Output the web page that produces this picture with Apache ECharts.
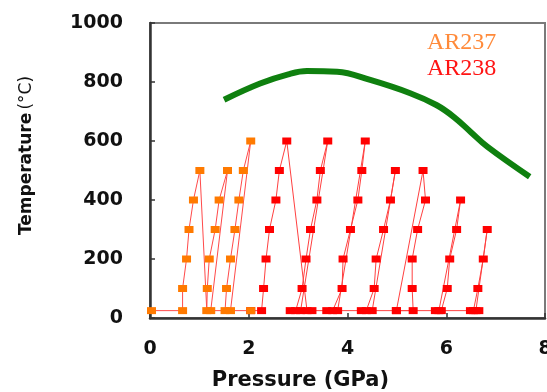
<!DOCTYPE html>
<html>
<head>
<meta charset="utf-8">
<script src="https://cdn.jsdelivr.net/npm/echarts@6/dist/echarts.min.js"></script>
<style>
html,body{margin:0;padding:0;background:#fff;}
#chart{width:547px;height:392px;}
</style>
</head>
<body>
<div id="chart"></div>
<script>
// Tick labels
const xTicks = [0, 2, 4, 6, 8];
const yTicks = [0, 200, 400, 600, 800, 1000];

// AR237 run path: [pressure GPa, temperature °C]
const ar237 = [
  [0.03,25],[0.66,25],[0.66,100],[0.74,200],[0.79,300],[0.88,400],[1.01,500],
  [1.15,25],[1.16,100],[1.20,200],[1.32,300],[1.40,400],[1.57,500],
  [1.23,25],[1.52,25],[1.55,100],[1.63,200],[1.72,300],[1.80,400],[1.89,500],[2.04,600],
  [1.63,25],[2.04,25]
];

// AR238 run path
const ar238 = [
  [2.04,25],[2.26,25],[2.30,100],[2.35,200],[2.42,300],[2.55,400],[2.62,500],[2.77,600],
  [3.18,25],[2.84,25],[2.95,25],[3.08,100],[3.16,200],[3.25,300],[3.38,400],[3.45,500],[3.60,600],
  [3.05,25],[3.28,25],[3.58,25],[3.70,25],[3.89,100],[3.91,200],[4.06,300],[4.21,400],[4.29,500],[4.36,600],
  [3.80,25],[4.28,25],[4.38,25],[4.54,100],[4.58,200],[4.73,300],[4.87,400],[4.97,500],
  [4.50,25],[4.99,25],[5.33,25],[5.31,100],[5.31,200],[5.42,300],[5.58,400],[5.53,500],
  [4.99,25],[5.78,25],[5.90,25],[6.02,100],[6.07,200],[6.21,300],[6.29,400],
  [5.85,25],[6.49,25],[6.55,25],[6.64,100],[6.75,200],[6.83,300],
  [6.60,25],[6.66,25]
];

// Green boundary curve
const boundary = [
  [1.50,740],[2.23,795],[2.80,826],[3.18,837],[3.79,835],[4.46,807],
  [5.27,762],[5.80,722],[6.15,682],[6.50,630],[6.83,581],[7.69,479]
];

const chart = echarts.init(document.getElementById('chart'));
const boldFont = 'DejaVu Sans';
chart.setOption({
  animation: false,
  backgroundColor: '#fff',
  grid: {
    left: 150, right: 2, top: 23, bottom: 74,
    outerBoundsMode: 'none', containLabel: false,
    show: true, borderColor: '#7a7a7a', borderWidth: 2, backgroundColor: '#fff'
  },
  legend: {
    orient: 'vertical',
    left: 417, top: 26,
    icon: 'none', itemWidth: 0, itemGap: 2,
    selectedMode: false,
    textStyle: { fontFamily: 'Liberation Serif', fontSize: 24 },
    data: [
      { name: 'AR237', textStyle: { color: '#ff8a3a' } },
      { name: 'AR238', textStyle: { color: '#ff1414' } }
    ]
  },
  xAxis: {
    type: 'value', min: xTicks[0], max: xTicks[xTicks.length-1], interval: 2,
    name: 'Pressure (GPa)', nameLocation: 'middle', nameGap: 52,
    nameTextStyle: { fontFamily: boldFont, fontWeight: 'bold', fontSize: 21, color: '#111', padding: [0, 94, 0, 0] },
    axisLine: { show: true, lineStyle: { color: '#333', width: 2.5 } },
    axisTick: { show: true, inside: true, length: 5, lineStyle: { color: '#333', width: 1.5 } },
    axisLabel: { margin: 22, fontFamily: boldFont, fontWeight: 'bold', fontSize: 19, color: '#111', showMaxLabel: true, hideOverlap: false },
    splitLine: { show: false }
  },
  yAxis: {
    type: 'value', min: yTicks[0], max: yTicks[yTicks.length-1], interval: 200,
    name: '{b|Temperature} {n|(°C)}', nameLocation: 'middle', nameGap: 115,
    nameTextStyle: {
      padding: [0, 0, 0, 30],
      rich: {
        b: { fontFamily: boldFont, fontWeight: 'bold', fontSize: 17, color: '#111' },
        n: { fontFamily: boldFont, fontWeight: 'normal', fontSize: 17, color: '#111' }
      }
    },
    axisLine: { show: true, lineStyle: { color: '#333', width: 2.5 } },
    axisTick: { show: true, inside: true, length: 5, lineStyle: { color: '#333', width: 1.5 } },
    axisLabel: { margin: 27, fontFamily: boldFont, fontWeight: 'bold', fontSize: 19, color: '#111', formatter: function (v) { return String(v); } },
    splitLine: { show: false }
  },
  series: [
    {
      name: 'AR238', type: 'line', data: ar238, z: 3,
      symbol: 'rect', symbolSize: [9, 7], showAllSymbol: true,
      lineStyle: { color: '#ff4040', width: 1 },
      itemStyle: { color: '#ff0000' }
    },
    {
      name: 'AR237', type: 'line', data: ar237, z: 4,
      symbol: 'rect', symbolSize: [9, 7], showAllSymbol: true,
      lineStyle: { color: '#ff4a4a', width: 1 },
      itemStyle: { color: '#ff7a00' }
    },
    {
      name: 'boundary', type: 'line', data: boundary, z: 5,
      smooth: 0.4, showSymbol: false,
      lineStyle: { color: '#0f800f', width: 6 }
    }
  ]
});
</script>
</body>
</html>
